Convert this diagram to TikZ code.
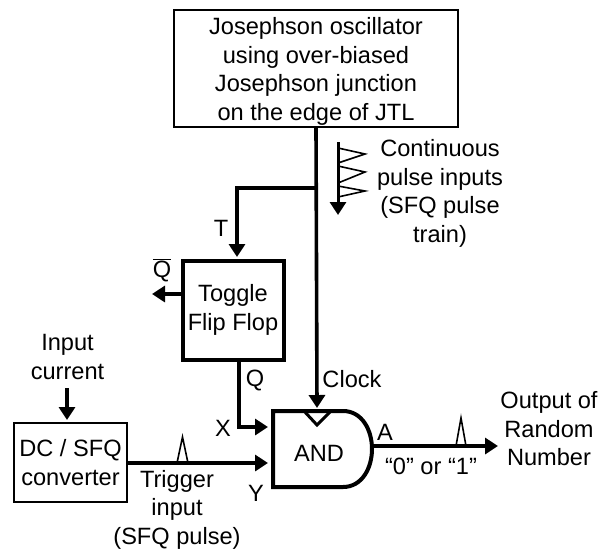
\documentclass[tikz,border=0pt]{standalone}
\usepackage{fontspec}
\setmainfont{Liberation Sans}
\usetikzlibrary{positioning, arrows.meta}
\tikzset{
x=1pt, y=-1pt, % reference pixels, y pointing down
wire/.style={line width=3.6pt, -{Triangle[length=13pt,width=16pt]}}, % signal lines
pulse/.style={line width=1.6pt, line join=miter},
box/.style={draw, inner sep=0pt, align=center},
label/.style={inner sep=0pt, align=center},
every node/.append style={font=\fontsize{23.6}{28.5}\selectfont},
}
\begin{document}
\begin{tikzpicture}
        \useasboundingbox (0,0) rectangle (602,550);
        \node[box, line width=2pt, minimum width=284pt, minimum height=117pt] (osc) at (316,68.5) {\rule{0pt}{23pt}Josephson oscillator\\using over-biased\\Josephson junction\\on the edge of JTL};
        \node[box, line width=4pt, minimum width=101pt, minimum height=99pt] (ff) at (233,310) {Toggle\\Flip Flop};
        \node[box, line width=2.2pt, minimum width=113pt, minimum height=79pt] (dc) at (70.5,462.5) {DC / SFQ\\converter};

        % AND gate
        \coordinate (gnw) at (273,411);
        \coordinate (gsw) at (273,487);
        \draw[line width=4pt, line join=miter] (gnw) -- (343,411) .. controls (362,411) and (372,430) .. (372,449) .. controls (372,468) and (362,487) .. (343,487) -- (gsw) -- cycle;
        \node[label] (and) at (319,453) {AND};
        \coordinate (clk) at (317,408);
        \draw[line width=3pt] (304,411) -- (317,425) -- (331,411);

        % labels
        \node[label] (cont) at (440,193.5) {Continuous\\pulse inputs\\(SFQ pulse\\train)};
        \node[label] (tlab) at (221,228) {T};
        \node[label] (qbar) at (162,270) {$\overline{\mbox{Q}}$};
        \node[label] (qlab) at (255,380) {Q};
        \node[label] (xlab) at (223,428) {X};
        \node[label] (ylab) at (256,493) {Y};
        \node[label] (clab) at (352,379) {Clock};
        \node[label] (alab) at (385,432) {A};
        \node[label] (val) at (431,466) {“0” or “1”};
        \node[label] (inp) at (67.5,357) {Input\\current};
        \node[label] (trig) at (177,509.5) {Trigger\\input\\(SFQ pulse)};
        \node[label] (out) at (549,429) {Output of\\Random\\Number};

        % connectors
        \coordinate (tap) at (316,188);
        \coordinate (tcor) at (237,188);
        \coordinate (tend) at (237,257);
        \coordinate (qout) at (152,294);
        \coordinate (qcor) at (239,427);
        \coordinate (xend) at (268,427);
        \coordinate (yend) at (268,463);
        \coordinate (aout) at (372,446);
        \coordinate (aend) at (498,446);
        \coordinate (istart) at (67,388);
        \coordinate (iend) at (67,420);
        \draw[wire] (osc.south) -- (clk);
        \draw[wire] (tap) -- (tcor) -- (tend);
        \draw[wire] (ff.west |- qout) -- (qout);
        \draw[wire] (ff.south -| qcor) -- (qcor) -- (xend);
        \draw[wire] (dc.east |- yend) -- (yend);
        \draw[wire] (aout) -- (aend);
        \draw[wire] (istart) -- (iend);

        % pulses
        \draw[wire, line width=3pt] (338,142) -- (338,215);
        \draw[pulse] (338,148) -- (365,154) -- (338,163);
        \draw[pulse] (338,166) -- (365,172) -- (338,183);
        \draw[pulse] (338,186) -- (365,191) -- (338,197);
        \draw[pulse] (456,446) -- (461,418) -- (466,446);
        \draw[pulse] (177,463) -- (182.5,437) -- (188,463);
\end{tikzpicture}
\end{document}
